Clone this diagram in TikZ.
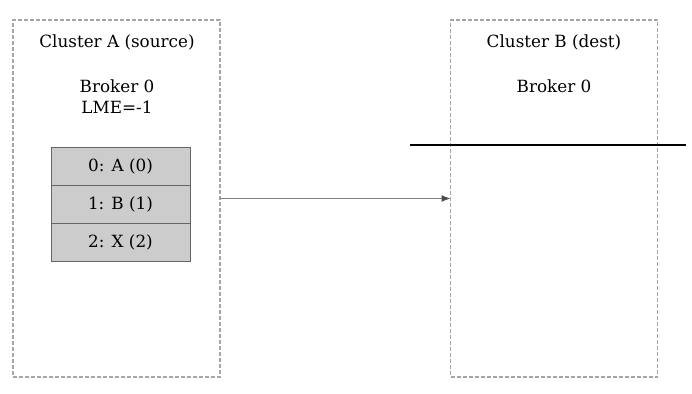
\documentclass[tikz,border=0pt]{standalone}
\usepackage{fontspec}
\setmainfont{DejaVu Serif}
\usetikzlibrary{arrows.meta}
\begin{document}
\begin{tikzpicture}[x=1pt,y=-1pt,
  cluster/.style={draw=black!35, dash pattern=on 4pt off 2pt, line width=1.3pt, minimum width=207pt, minimum height=357pt, inner sep=0pt, outer sep=0pt},
  lbl/.style={font=\fontsize{16.8}{19}\selectfont, inner sep=0pt, align=center},
  cell/.style={draw=black!60, fill=black!20, line width=1pt, minimum width=139pt, minimum height=38pt, inner sep=0pt, outer sep=0pt, font=\fontsize{16.8}{19}\selectfont},
  link/.style={draw=black!50, line width=1.2pt, -{Latex[length=9pt,width=7pt,color=black!70]}}
]
\useasboundingbox (0,0) rectangle (692,393);
\node[cluster] (clA) at (116.5,198.5) {};
\node[cluster] (clB) at (554,198.5) {};
\node[lbl] (tA) at (117,42) {Cluster A (source)};
\node[lbl] (bA) at (117,86) {Broker 0};
\node[lbl] (lA) at (117,107) {LME=-1};
\node[lbl] (tB) at (554,42) {Cluster B (dest)};
\node[lbl] (bB) at (554,86) {Broker 0};
\node[cell] (c0) at (120.5,166) {0: A (0)};
\node[cell] (c1) at (120.5,204) {1: B (1)};
\node[cell] (c2) at (120.5,242) {2: X (2)};
\draw[link] (clA.east) -- (clB.west);
\coordinate (m1) at (410,145);
\coordinate (m2) at (686,145);
\draw[line width=2.8pt] (m1) -- (m2);
\end{tikzpicture}
\end{document}
